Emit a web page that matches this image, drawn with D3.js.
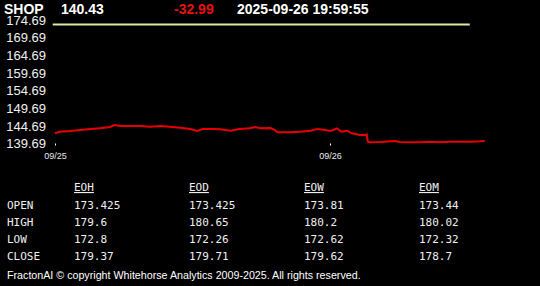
<!DOCTYPE html>
<html>
<head>
<meta charset="utf-8">
<script src="https://cdn.jsdelivr.net/npm/d3@7"></script>
<style>
  body { margin: 0; background: #000; }
  svg { display: block; background: #000; }
  .hdr { font: bold 14px "Liberation Sans", Arial, sans-serif; fill: #fff; }
  .yax text { font: 13px "Liberation Sans", Arial, sans-serif; fill: #f0f0f0; }
  .xax text { font: 9px "Liberation Sans", Arial, sans-serif; fill: #e8e8e8; }
  .tbl { font: 11px "DejaVu Sans Mono", monospace; fill: #f0f0f0; }
  .foot { font: 10.7px "Liberation Sans", Arial, sans-serif; fill: #fff; }
</style>
</head>
<body>
<div id="chart"></div>
<script>
// Header
const symbol = "SHOP",
    lastPrice = "140.43",
    change = "-32.99",
    stamp = "2025-09-26 19:59:55",
    prevClose = 173.42;

// Price line (hours since 09/25 tick, price)
const hours = [0, 0.4, 1.3, 2.2, 3.1, 3.9, 4.8, 5.2, 5.7, 6.5, 7.4, 8.3, 9.2, 10.0, 10.9, 11.8,
    12.4, 12.9, 13.8, 14.4, 15.3, 16.1, 17.0, 17.5, 17.9, 18.8, 19.2, 19.4, 20.5, 21.4, 22.3,
    22.9, 23.6, 24.0, 24.3, 24.6, 25.0, 25.5, 25.9, 26.6, 27.1, 27.2, 27.3, 27.5, 28.4, 29.0,
    29.7, 30.1, 31.0, 31.9, 32.7, 33.6, 34.5, 35.4, 36.2, 37.1, 37.5];
const prices = [142.58, 143.03, 143.23, 143.51, 143.80, 143.99, 144.36, 144.93, 144.65, 144.65,
    144.65, 144.45, 144.65, 144.45, 144.17, 143.80, 143.23, 143.80, 143.80, 143.71, 143.32,
    143.80, 143.99, 144.36, 143.99, 144.08, 143.51, 142.86, 142.86, 143.03, 143.32, 143.80,
    143.51, 143.23, 143.51, 143.99, 143.03, 143.32, 142.58, 142.10, 142.10, 142.30, 140.20,
    140.03, 140.11, 140.26, 140.40, 140.11, 140.03, 140.03, 140.20, 140.03, 140.20, 140.20,
    140.20, 140.31, 140.43];
const refSpan = [-0.2, 36.2];

// Axes
const yTicks = [139.69, 144.69, 149.69, 154.69, 159.69, 164.69, 169.69, 174.69];
const xTicks = [0, 24],
    xLabels = ["09/25", "09/26"];

// Table
const periods = ["EOH", "EOD", "EOW", "EOM"],
    rowNames = ["OPEN", "HIGH", "LOW", "CLOSE"],
    opens = ["173.425", "173.425", "173.81", "173.44"],
    highs = ["179.6", "180.65", "180.2", "180.02"],
    lows = ["172.8", "172.26", "172.62", "172.32"],
    closes = ["179.37", "179.71", "179.62", "178.7"];
const footer = "FractonAI \u00a9 copyright Whitehorse Analytics 2009-2025. All rights reserved.";

const W = 540, H = 286;
const svg = d3.select("#chart").append("svg")
    .attr("width", W)
    .attr("height", H);

var x = d3.scaleLinear().domain([0, 24]).range([55, 330]);
var y = d3.scaleLinear().domain([139.69, 174.69]).range([143.5, 20]);

// Y axis labels
var yAxis = d3.axisLeft(y)
    .tickValues(yTicks)
    .tickSize(0)
    .tickPadding(0)
    .tickFormat(d3.format(".2f"));
svg.append("g")
    .attr("class", "yax")
    .attr("transform", "translate(46,0)")
    .call(yAxis)
    .call(g => g.select(".domain").remove());

// X axis
var xAxis = d3.axisBottom(x)
    .tickValues(xTicks)
    .tickSize(2)
    .tickPadding(7)
    .tickFormat((d, i) => xLabels[i]);
svg.append("g")
    .attr("class", "xax")
    .attr("transform", "translate(0,143.5)")
    .call(xAxis)
    .call(g => g.select(".domain").remove())
    .call(g => g.selectAll(".tick line").attr("stroke", "#fff"));

// Previous close line
svg.append("path")
    .datum(refSpan)
    .attr("fill", "none")
    .attr("stroke", "#dfe6a0")
    .attr("stroke-width", 2)
    .attr("d", d3.line().x(d => x(d)).y(() => y(prevClose)));

// Price line
var data = hours.map((h, i) => ({h: h, p: prices[i]}));
svg.append("path")
    .datum(data)
    .attr("fill", "none")
    .attr("stroke", "#e80000")
    .attr("stroke-width", 2)
    .attr("d", d3.line().x(d => x(d.h)).y(d => y(d.p)));

// Header
svg.append("text").attr("class", "hdr").attr("x", 4).attr("y", 14).text(symbol);
svg.append("text").attr("class", "hdr").attr("x", 61).attr("y", 14).text(lastPrice);
svg.append("text").attr("class", "hdr").attr("x", 174).attr("y", 14)
    .style("fill", "#e81010").text(change);
svg.append("text").attr("class", "hdr").attr("x", 237).attr("y", 14).text(stamp);

// OHLC table
var cx = d3.scalePoint().domain(periods).range([74, 419]);
var ry = d3.scalePoint().domain(rowNames).range([208.5, 259.5]);
var cols = [opens, highs, lows, closes];

svg.selectAll(".phead")
    .data(periods)
    .enter().append("text")
        .attr("class", "tbl phead")
        .attr("x", d => cx(d))
        .attr("y", 191)
        .style("text-decoration", "underline")
        .text(d => d);

svg.selectAll(".rname")
    .data(rowNames)
    .enter().append("text")
        .attr("class", "tbl rname")
        .attr("x", 7)
        .attr("y", d => ry(d))
        .text(d => d);

rowNames.forEach(function(r, ri) {
    svg.selectAll(".cell" + ri)
        .data(cols[ri])
        .enter().append("text")
            .attr("class", "tbl cell" + ri)
            .attr("x", (d, i) => cx(periods[i]))
            .attr("y", ry(r))
            .text(d => d);
});

svg.append("text")
    .attr("class", "foot")
    .attr("x", 7)
    .attr("y", 279)
    .text(footer);
</script>
</body>
</html>
